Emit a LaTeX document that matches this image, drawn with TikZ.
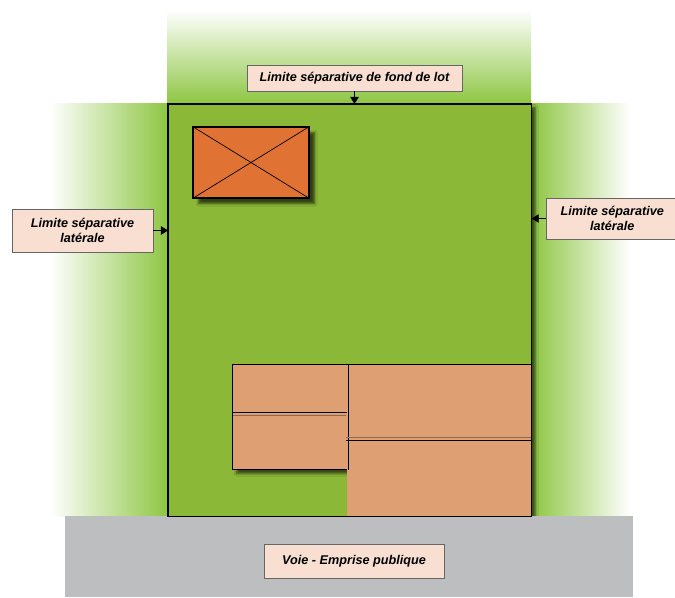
\documentclass[tikz,border=0pt]{standalone}
\usepackage{fontspec}
\newfontfamily\tagfont{Liberation Sans}
\usetikzlibrary{positioning,
	arrows.meta,
	shadows.blur}
\definecolor{lotgreen}{HTML}{8CB838}
\definecolor{bandgreen}{HTML}{8DC641}
\definecolor{annexorange}{HTML}{E07234}
\definecolor{housetan}{HTML}{DE9F73}
\definecolor{roadgray}{HTML}{BCBEC0}
\definecolor{tagpink}{HTML}{F8DFD1}

\begin{document}
\begin{tikzpicture}[x=0.025cm, y=-0.025cm,
                    tagbox/.style={draw=black!60, fill=tagpink, line width=0.4pt, inner sep=1pt, align=center, font=\tagfont\bfseries\itshape\fontsize{9}{10.5}\selectfont},
                    tagarrow/.style={-{Triangle[length=5pt,width=6pt]}, line width=0.6pt},
                    house/.style={draw, fill=housetan, line width=0.7pt, inner sep=0pt, anchor=north west}]
                            \useasboundingbox (0,0) rectangle (675,597);
                            % green bands round the lot
                            \shade[top color=white, bottom color=bandgreen] (167,10) rectangle (531,104);
                            \shade[left color=white, right color=bandgreen] (50,104) rectangle (168,516);
                            \shade[left color=bandgreen, right color=white] (531,104) rectangle (630,516);
                            \node (lot) [fill=lotgreen, inner sep=0pt, anchor=north west, minimum width=9.075cm, minimum height=10.3cm, blur shadow={shadow xshift=3pt, shadow yshift=-2pt, shadow opacity=60}] at (168,104) {};
                            \fill[roadgray] (65,516) rectangle (633,597);
                            % buildings
                            \node (annex) [draw, fill=annexorange, inner sep=0pt, line width=0.8pt, minimum width=2.9cm, minimum height=1.775cm, blur shadow={shadow xshift=4pt, shadow yshift=-4pt, shadow opacity=65}] at (251,162.5) {};
                            \draw[line width=0.5pt] (annex.north west) -- (annex.south east);
                            \draw[line width=0.5pt] (annex.north east) -- (annex.south west);
                            \node (houseL) [house, minimum width=2.875cm, minimum height=2.625cm, blur shadow={shadow xshift=3pt, shadow yshift=-3pt, shadow opacity=60}] at (232,364) {};
                            \node (houseR) [house, draw=none, minimum width=4.6cm, minimum height=3.8cm] at (347,364) {};
                            \draw[line width=0.7pt] (houseR.north west) -- (houseR.north east);
                            \draw[line width=0.7pt] (houseL.north east) -- (houseL.south east);
                            \draw[line width=0.7pt] (232,412) -- (347,412);
                            \draw[housetan!65!black, line width=0.4pt] (233,415) -- (346,415);
                            \draw[housetan!65!black, line width=0.4pt] (346,437) -- (531,437);
                            \draw[line width=0.7pt] (346,440) -- (531,440);
                            \draw[line width=1.1pt] (lot.south west) rectangle (lot.north east);
                            % tags
                            \node (backtag) [tagbox, minimum width=5.375cm, minimum height=0.65cm] at (354.5,78) {Limite séparative de fond de lot};
                            \node (lefttag) [tagbox, minimum width=3.525cm, minimum height=1.075cm] at (82.5,230.5) {Limite séparative\\latérale};
                            \node (righttag) [tagbox, anchor=west, minimum width=3.3cm, minimum height=1.025cm] at (546,218.5) {Limite séparative\\latérale};
                            \node (roadtag) [tagbox, minimum width=4.5cm, minimum height=0.85cm] at (354,561) {Voie - Emprise publique};
                            \draw[tagarrow] (backtag.south) -- (backtag.south |- lot.north);
                            \draw[tagarrow] (lefttag.east) -- (lefttag.east -| lot.west);
                            \draw[tagarrow] (righttag.west) -- (righttag.west -| lot.east);
                        \end{tikzpicture}
\end{document}
